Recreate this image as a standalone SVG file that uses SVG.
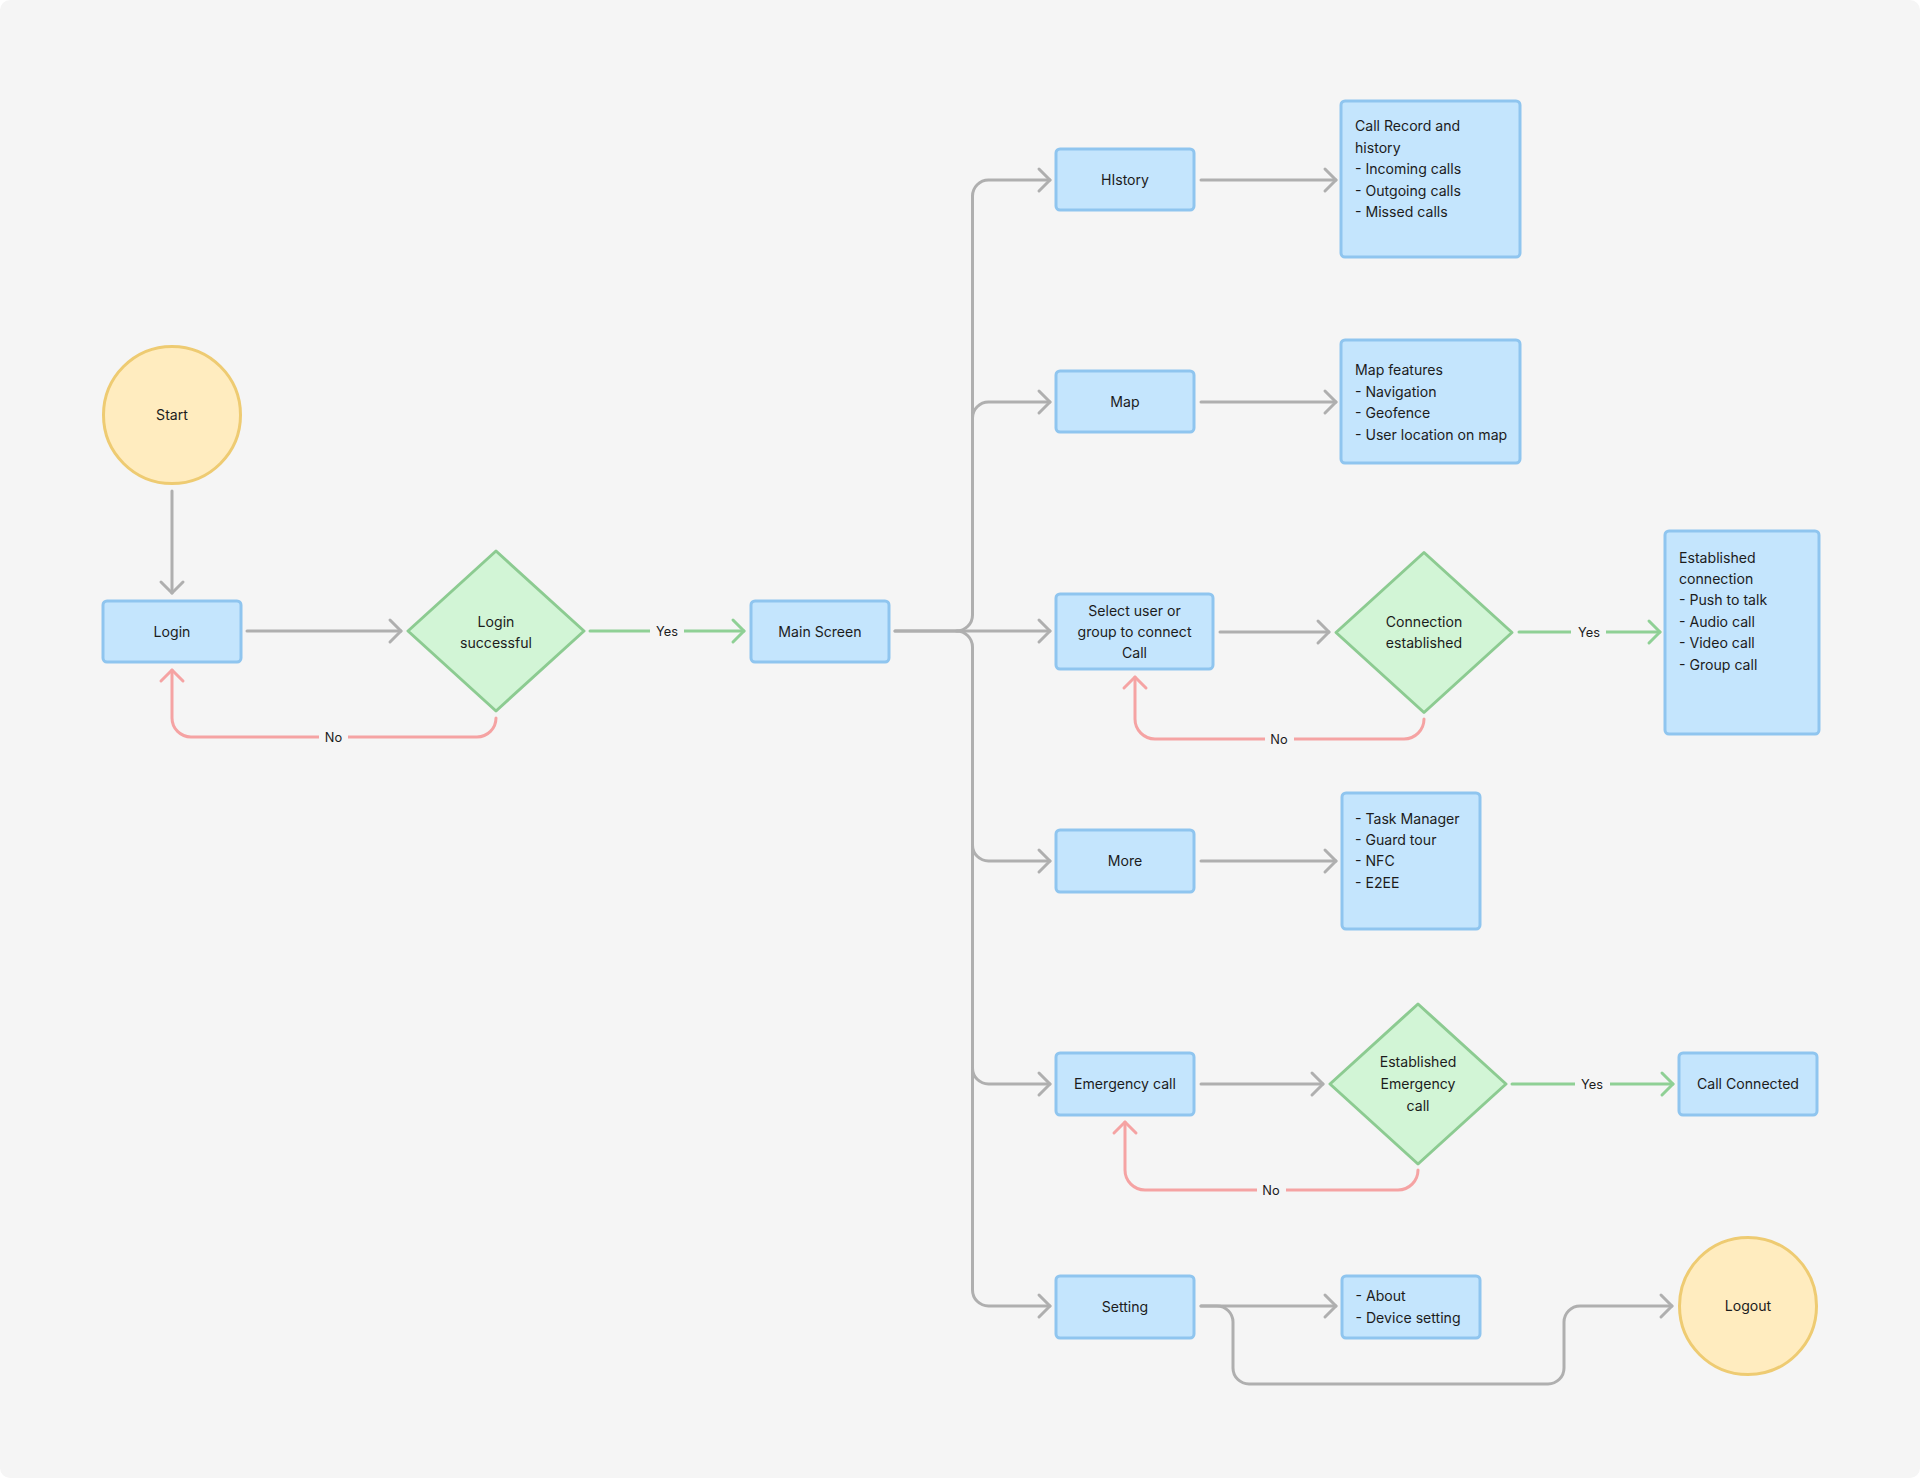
<svg xmlns="http://www.w3.org/2000/svg" width="1920" height="1478" viewBox="0 0 1920 1478">
<style>
.box{fill:#c4e5fd;stroke:#8fc5ef;stroke-width:3}
.dia{fill:#d2f5d6;stroke:#8ccb91;stroke-width:3;stroke-linejoin:round}
.term{fill:#ffecbf;stroke:#eecb72;stroke-width:3}
text{font-family:Inter,"Noto Sans","Liberation Sans",sans-serif;font-size:14.1px;fill:#1c1c1c}
.c{text-anchor:middle}
.lbl{font-size:12.8px;text-anchor:middle}
.lb{fill:#f5f5f5}
.g{fill:none;stroke:#afafaf;stroke-width:3;stroke-linecap:round;stroke-linejoin:round}
.gr{fill:none;stroke:#8fd095;stroke-width:3;stroke-linecap:round;stroke-linejoin:round}
.rd{fill:none;stroke:#f5a3a3;stroke-width:3;stroke-linecap:round;stroke-linejoin:round}
</style>
<defs>
<marker id="ag" markerUnits="userSpaceOnUse" viewBox="-14 -14 16 28" refX="0" refY="0" markerWidth="16" markerHeight="28" orient="auto" overflow="visible"><path d="M-11,-11 L0,0 L-11,11" fill="none" stroke="#afafaf" stroke-width="3" stroke-linecap="round" stroke-linejoin="round"/></marker>
<marker id="agr" markerUnits="userSpaceOnUse" viewBox="-14 -14 16 28" refX="0" refY="0" markerWidth="16" markerHeight="28" orient="auto" overflow="visible"><path d="M-11,-11 L0,0 L-11,11" fill="none" stroke="#8fd095" stroke-width="3" stroke-linecap="round" stroke-linejoin="round"/></marker>
<marker id="ard" markerUnits="userSpaceOnUse" viewBox="-14 -14 16 28" refX="0" refY="0" markerWidth="16" markerHeight="28" orient="auto" overflow="visible"><path d="M-11,-11 L0,0 L-11,11" fill="none" stroke="#f5a3a3" stroke-width="3" stroke-linecap="round" stroke-linejoin="round"/></marker>
</defs>
<rect x="0" y="0" width="1920" height="1478" fill="#ffffff"/>
<rect x="0" y="0" width="1920" height="1478" rx="10" fill="#f5f5f5"/>

<g id="connectors">
<path class="g" d="M172,491 L172,593" marker-end="url(#ag)"/>
<path class="g" d="M247,631 L401,631" marker-end="url(#ag)"/>
<path class="gr" d="M590,631 L744,631" marker-end="url(#agr)"/>
<path class="rd" d="M496,718 A19,19 0 0 1 477,737 L191,737 A19,19 0 0 1 172,718 L172,670" marker-end="url(#ard)"/>

<path class="g" d="M895,631 L956.5,631 A16,16 0 0 0 972.5,615 L972.5,196 A16,16 0 0 1 988.5,180 L1050,180" marker-end="url(#ag)"/>
<path class="g" d="M972.5,418 A16,16 0 0 1 988.5,402 L1050,402" marker-end="url(#ag)"/>
<path class="g" d="M895,631 L1050,631" marker-end="url(#ag)"/>
<path class="g" d="M956.5,631 A16,16 0 0 1 972.5,647 L972.5,1290 A16,16 0 0 0 988.5,1306 L1050,1306" marker-end="url(#ag)"/>
<path class="g" d="M972.5,845 A16,16 0 0 0 988.5,861 L1050,861" marker-end="url(#ag)"/>
<path class="g" d="M972.5,1068 A16,16 0 0 0 988.5,1084 L1050,1084" marker-end="url(#ag)"/>

<path class="g" d="M1201,180 L1336,180" marker-end="url(#ag)"/>
<path class="g" d="M1201,402 L1336,402" marker-end="url(#ag)"/>
<path class="g" d="M1220,632 L1329,632" marker-end="url(#ag)"/>
<path class="gr" d="M1519,632 L1660,632" marker-end="url(#agr)"/>
<path class="rd" d="M1424,719 A20,20 0 0 1 1404,739 L1155,739 A20,20 0 0 1 1135,719 L1135,677" marker-end="url(#ard)"/>
<path class="g" d="M1201,861 L1336,861" marker-end="url(#ag)"/>
<path class="g" d="M1201,1084 L1323,1084" marker-end="url(#ag)"/>
<path class="gr" d="M1512,1084 L1673,1084" marker-end="url(#agr)"/>
<path class="rd" d="M1418,1170 A20,20 0 0 1 1398,1190 L1145,1190 A20,20 0 0 1 1125,1170 L1125,1122" marker-end="url(#ard)"/>
<path class="g" d="M1201,1306 L1336,1306" marker-end="url(#ag)"/>
<path class="g" d="M1201,1306 L1217,1306 A16,16 0 0 1 1233,1322 L1233,1368 A16,16 0 0 0 1249,1384 L1548,1384 A16,16 0 0 0 1564,1368 L1564,1322 A16,16 0 0 1 1580,1306 L1672,1306" marker-end="url(#ag)"/>

<rect class="lb" x="650" y="622" width="34" height="18"/>
<text class="lbl" x="667" y="636">Yes</text>
<rect class="lb" x="319" y="728" width="29" height="18"/>
<text class="lbl" x="333.5" y="742">No</text>
<rect class="lb" x="1571" y="623" width="35" height="18"/>
<text class="lbl" x="1589" y="637">Yes</text>
<rect class="lb" x="1265" y="730" width="29" height="18"/>
<text class="lbl" x="1279" y="744">No</text>
<rect class="lb" x="1575" y="1075" width="35" height="18"/>
<text class="lbl" x="1592" y="1089">Yes</text>
<rect class="lb" x="1257" y="1181" width="29" height="18"/>
<text class="lbl" x="1271" y="1195">No</text>
</g>

<g id="start"><circle class="term" cx="172" cy="415" r="68.5"/><text class="c" x="172" y="420">Start</text></g>
<g id="login"><rect class="box" x="103" y="601" width="138" height="61" rx="4"/><text class="c" x="172" y="636.5">Login</text></g>
<g id="login-successful"><polygon class="dia" points="496,551 584,631 496,711 408,631"/><text class="c" x="496" y="626.7">Login</text><text class="c" x="496" y="647.7">successful</text></g>
<g id="main-screen"><rect class="box" x="751" y="601" width="138" height="61" rx="4"/><text class="c" x="820" y="636.5">Main Screen</text></g>
<g id="history"><rect class="box" x="1056" y="149" width="138" height="61" rx="4"/><text class="c" x="1125" y="184.5">HIstory</text></g>
<g id="call-record"><rect class="box" x="1341" y="101" width="179" height="156" rx="4"/>
<text x="1355" y="131">Call Record and</text><text x="1355" y="152.5">history</text><text x="1355" y="174">- Incoming calls</text><text x="1355" y="195.5">- Outgoing calls</text><text x="1355" y="217">- Missed calls</text></g>
<g id="map"><rect class="box" x="1056" y="371" width="138" height="61" rx="4"/><text class="c" x="1125" y="407">Map</text></g>
<g id="map-features"><rect class="box" x="1341" y="340" width="179" height="123" rx="4"/>
<text x="1355" y="375">Map features</text><text x="1355" y="396.5">- Navigation</text><text x="1355" y="418">- Geofence</text><text x="1355" y="439.5">- User location on map</text></g>
<g id="select-user"><rect class="box" x="1056" y="594" width="157" height="75" rx="4"/>
<text class="c" x="1134.5" y="615.7">Select user or</text><text class="c" x="1134.5" y="637">group to connect</text><text class="c" x="1134.5" y="658.3">Call</text></g>
<g id="connection-established"><polygon class="dia" points="1424,552.5 1512,632.5 1424,712.5 1336,632.5"/><text class="c" x="1424" y="627">Connection</text><text class="c" x="1424" y="648.3">established</text></g>
<g id="established-connection"><rect class="box" x="1665" y="531" width="154" height="203" rx="4"/>
<text x="1679" y="562.7">Established</text><text x="1679" y="584.3">connection</text><text x="1679" y="605.3">- Push to talk</text><text x="1679" y="627">- Audio call</text><text x="1679" y="648.3">- Video call</text><text x="1679" y="670">- Group call</text></g>
<g id="more"><rect class="box" x="1056" y="830" width="138" height="62" rx="4"/><text class="c" x="1125" y="866">More</text></g>
<g id="more-features"><rect class="box" x="1342" y="793" width="138" height="136" rx="4"/>
<text x="1355" y="823.7">- Task Manager</text><text x="1355" y="845">- Guard tour</text><text x="1355" y="866.3">- NFC</text><text x="1355" y="888">- E2EE</text></g>
<g id="emergency-call"><rect class="box" x="1056" y="1053" width="138" height="62" rx="4"/><text class="c" x="1125" y="1089">Emergency call</text></g>
<g id="established-emergency"><polygon class="dia" points="1418,1004 1506,1084 1418,1164 1330,1084"/><text class="c" x="1418" y="1067.3">Established</text><text class="c" x="1418" y="1089">Emergency</text><text class="c" x="1418" y="1110.7">call</text></g>
<g id="call-connected"><rect class="box" x="1679" y="1053" width="138" height="62" rx="4"/><text class="c" x="1748" y="1089">Call Connected</text></g>
<g id="setting"><rect class="box" x="1056" y="1276" width="138" height="62" rx="4"/><text class="c" x="1125" y="1312">Setting</text></g>
<g id="setting-features"><rect class="box" x="1342" y="1276" width="138" height="62" rx="4"/>
<text x="1355.5" y="1301">- About</text><text x="1355.5" y="1322.7">- Device setting</text></g>
<g id="logout"><circle class="term" cx="1748" cy="1306" r="68.5"/><text class="c" x="1748" y="1311">Logout</text></g>
</svg>
